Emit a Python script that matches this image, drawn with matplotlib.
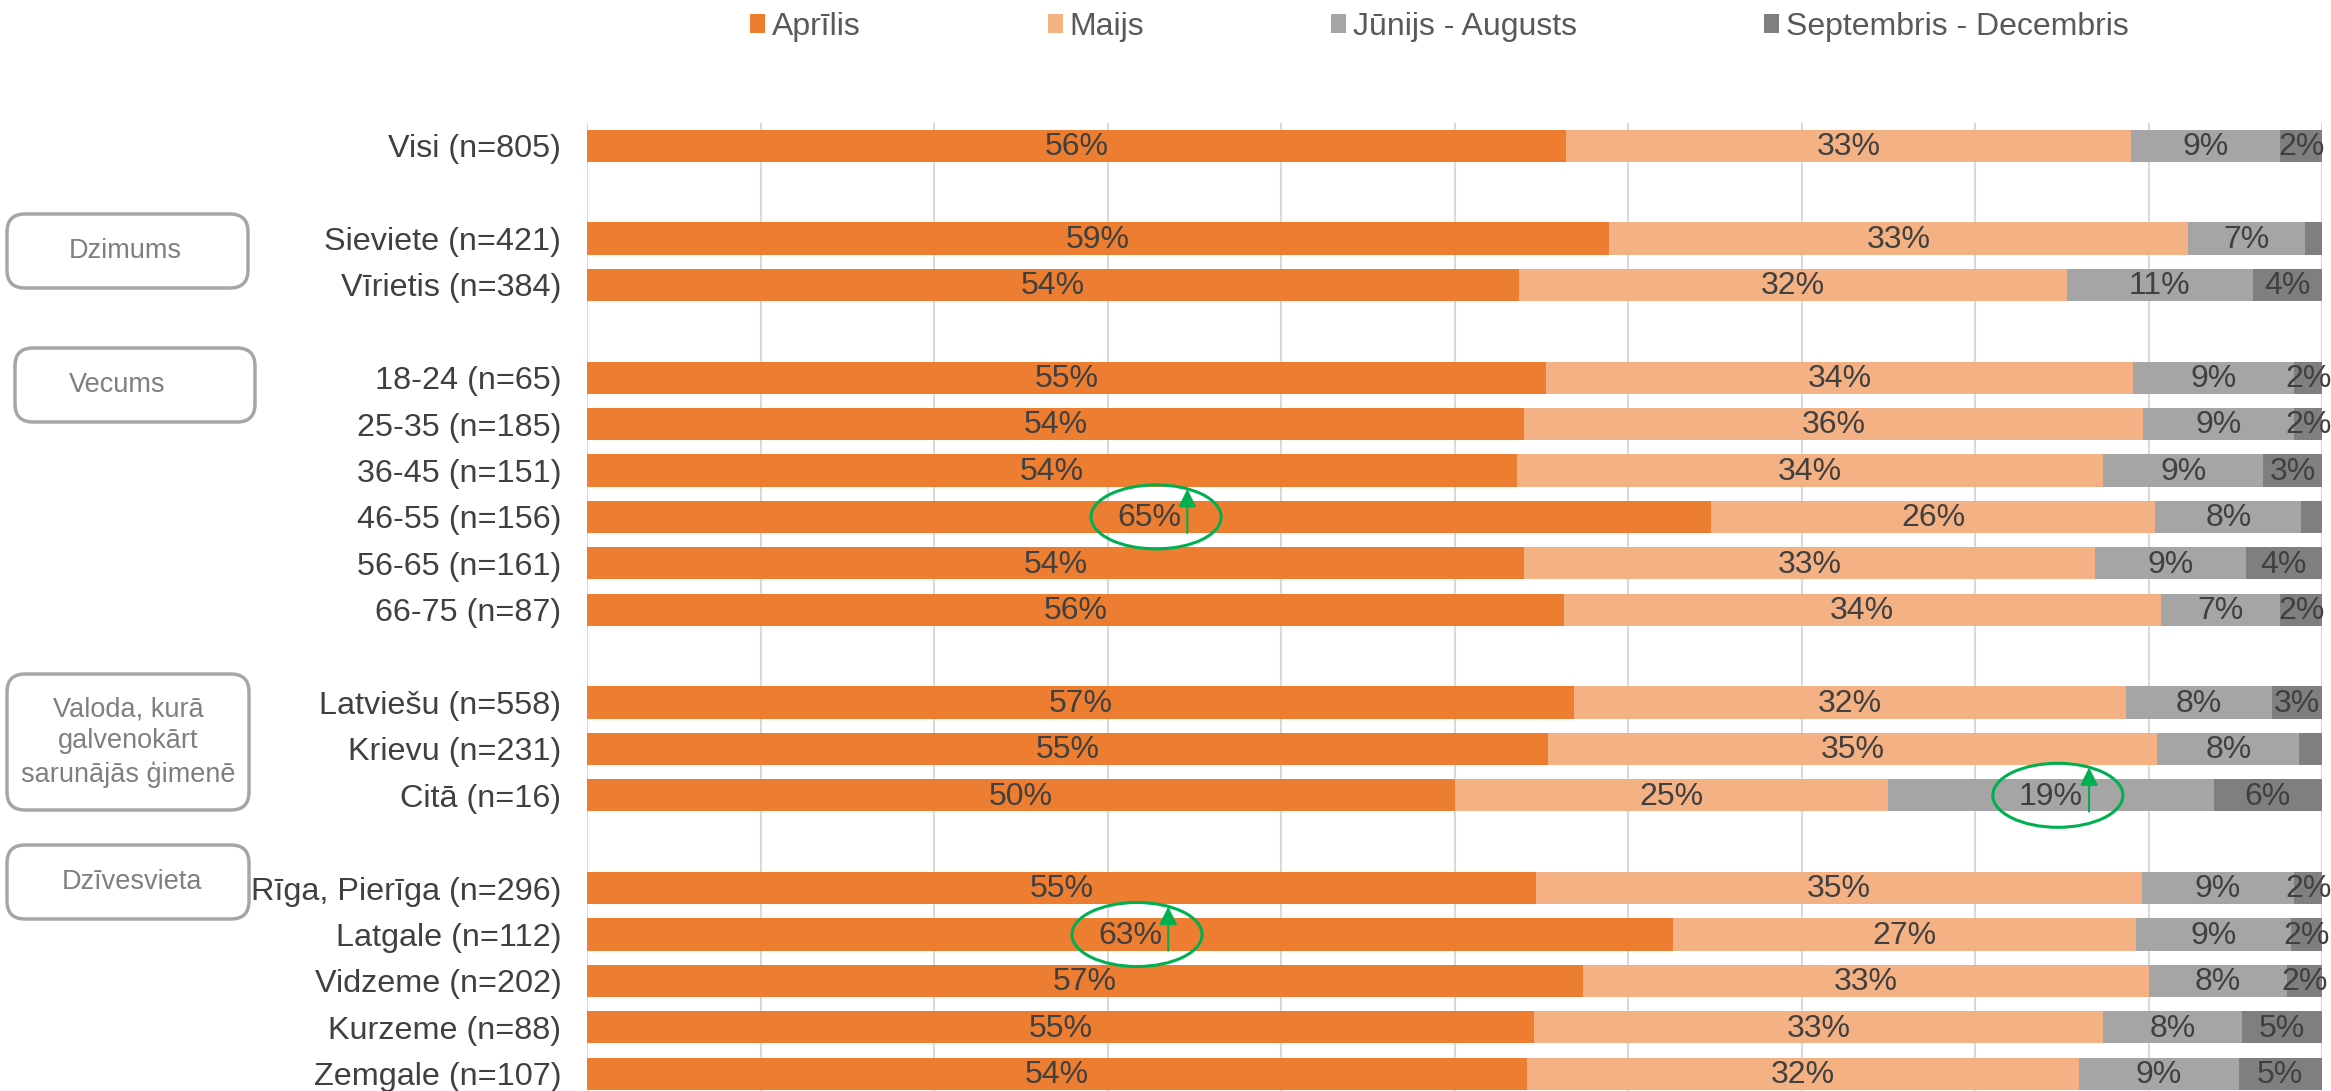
import numpy as np
import matplotlib
matplotlib.use("Agg")
import matplotlib.pyplot as plt
from matplotlib.patches import Patch, Ellipse, FancyBboxPatch

plt.rcParams['font.family'] = ['Liberation Sans', 'DejaVu Sans']

nan = np.nan

# rindas ("" = tukša rinda starp grupām)
categories = ["Visi (n=805)", "",
              "Sieviete (n=421)", "Vīrietis (n=384)", "",
              "18-24 (n=65)", "25-35 (n=185)", "36-45 (n=151)", "46-55 (n=156)",
              "56-65 (n=161)", "66-75 (n=87)", "",
              "Latviešu (n=558)", "Krievu (n=231)", "Citā (n=16)", "",
              "Rīga, Pierīga (n=296)", "Latgale (n=112)", "Vidzeme (n=202)",
              "Kurzeme (n=88)", "Zemgale (n=107)"]

series_names = ["Aprīlis", "Maijs", "Jūnijs - Augusts", "Septembris - Decembris"]

aprilis = [56.4, nan, 58.9, 53.7, nan, 55.3, 54.0, 53.6, 64.8, 54.0, 56.3, nan,
           56.9, 55.4, 50.0, nan, 54.7, 62.6, 57.4, 54.6, 54.2]
maijs = [32.6, nan, 33.4, 31.6, nan, 33.8, 35.7, 33.8, 25.6, 32.9, 34.4, nan,
         31.8, 35.1, 25.0, nan, 34.9, 26.7, 32.6, 32.8, 31.8]
junijs_aug = [8.6, nan, 6.7, 10.7, nan, 9.3, 8.7, 9.2, 8.4, 8.7, 6.9, nan,
              8.4, 8.2, 18.75, nan, 8.8, 8.9, 8.0, 8.0, 9.2]
sept_dec = [2.4, nan, 1.0, 4.0, nan, 1.6, 1.6, 3.4, 1.2, 4.4, 2.4, nan,
            2.9, 1.3, 6.25, nan, 1.6, 1.8, 2.0, 4.6, 4.8]

# izcelti rezultāti: (rinda, sērijas indekss)
highlights = [("46-55 (n=156)", 0), ("Citā (n=16)", 2), ("Latgale (n=112)", 0)]

# grupu rāmji kreisajā pusē (x0, y0, x1, y1 pikseļos no augšas)
group_boxes = [("Dzimums", (7, 214, 248, 288), 125),
               ("Vecums", (15, 348, 255, 422), 117),
               ("Valoda, kurā\ngalvenokārt\nsarunājās ģimenē", (7, 674, 249, 810), 128),
               ("Dzīvesvieta", (7, 845, 249, 919), 132)]

colors = ["#ED7D31", "#F4B183", "#A5A5A5", "#7F7F7F"]
W, H = 2331, 1091

fig = plt.figure(figsize=(W / 100, H / 100), dpi=100)
ax = fig.add_axes([587 / W, -5.9 / H, 1735 / W, 974.4 / H])

y = np.arange(len(categories))
data = np.array([aprilis, maijs, junijs_aug, sept_dec])
left = np.zeros(len(categories))
for vals, col in zip(data, colors):
    v = np.nan_to_num(vals)
    ax.barh(y, v, left=left, height=0.69, color=col, zorder=2)
    for yi, (l, w) in enumerate(zip(left, v)):
        if w >= 1.5:
            ax.text(l + w / 2, yi + 0.03, f"{w:.0f}%", ha="center", va="center",
                    fontsize=23, color="#404040", zorder=3)
    left = left + v

ax.set_xlim(0, 100)
ax.set_ylim(len(categories) - 0.5, -0.5)
ax.set_xticks(np.arange(0, 101, 10))
ax.set_xticklabels([])
ax.grid(axis="x", color="#D9D9D9", linewidth=1.5, zorder=0)
ax.tick_params(length=0, pad=18.5)
real = [i for i, c in enumerate(categories) if c]
ax.set_yticks(real)
ax.set_yticklabels([categories[i] for i in real], fontsize=23.3, color="#404040")
for s in ax.spines.values():
    s.set_visible(False)

# zaļās elipses ar bultiņām
green = "#00B050"
starts = np.vstack([np.zeros(len(categories)), np.cumsum(np.nan_to_num(data), axis=0)[:-1]])
for name, si in highlights:
    ri = categories.index(name)
    cx = starts[si, ri] + data[si, ri] / 2
    ax.add_patch(Ellipse((cx + 0.4, ri), 7.5, 1.38, fill=False, edgecolor=green,
                         linewidth=2.2, zorder=4))
    ax.annotate("", xy=(cx + 2.2, ri - 0.6), xytext=(cx + 2.2, ri + 0.35),
                arrowprops=dict(arrowstyle="-|>,head_length=0.6,head_width=0.3",
                                color=green, lw=1.5, mutation_scale=18,
                                shrinkA=0, shrinkB=0), zorder=4)

# grupu rāmji
for text, (x0, y0, x1, y1), tx in group_boxes:
    fig.patches.append(FancyBboxPatch((x0, H - y1), x1 - x0, y1 - y0,
                                      boxstyle="round,pad=0,rounding_size=18",
                                      transform=None, facecolor="white",
                                      edgecolor="#A6A6A6", linewidth=2.5))
    fig.text(tx / W, 1 - (y0 + y1) / 2 / H, text, ha="center", va="center",
             fontsize=19.5, color="#7F7F7F", linespacing=1.3)

handles = [Patch(facecolor=c, edgecolor="none") for c in colors]
fig.legend(handles, series_names, ncol=4, loc="center",
           bbox_to_anchor=(1439.5 / W, 1 - 27 / H), frameon=False, fontsize=23,
           handlelength=0.47, handleheight=0.52, handletextpad=0.22,
           columnspacing=5.85, labelcolor="#595959", borderpad=0, borderaxespad=0)

fig.savefig("out.png", dpi=100)
